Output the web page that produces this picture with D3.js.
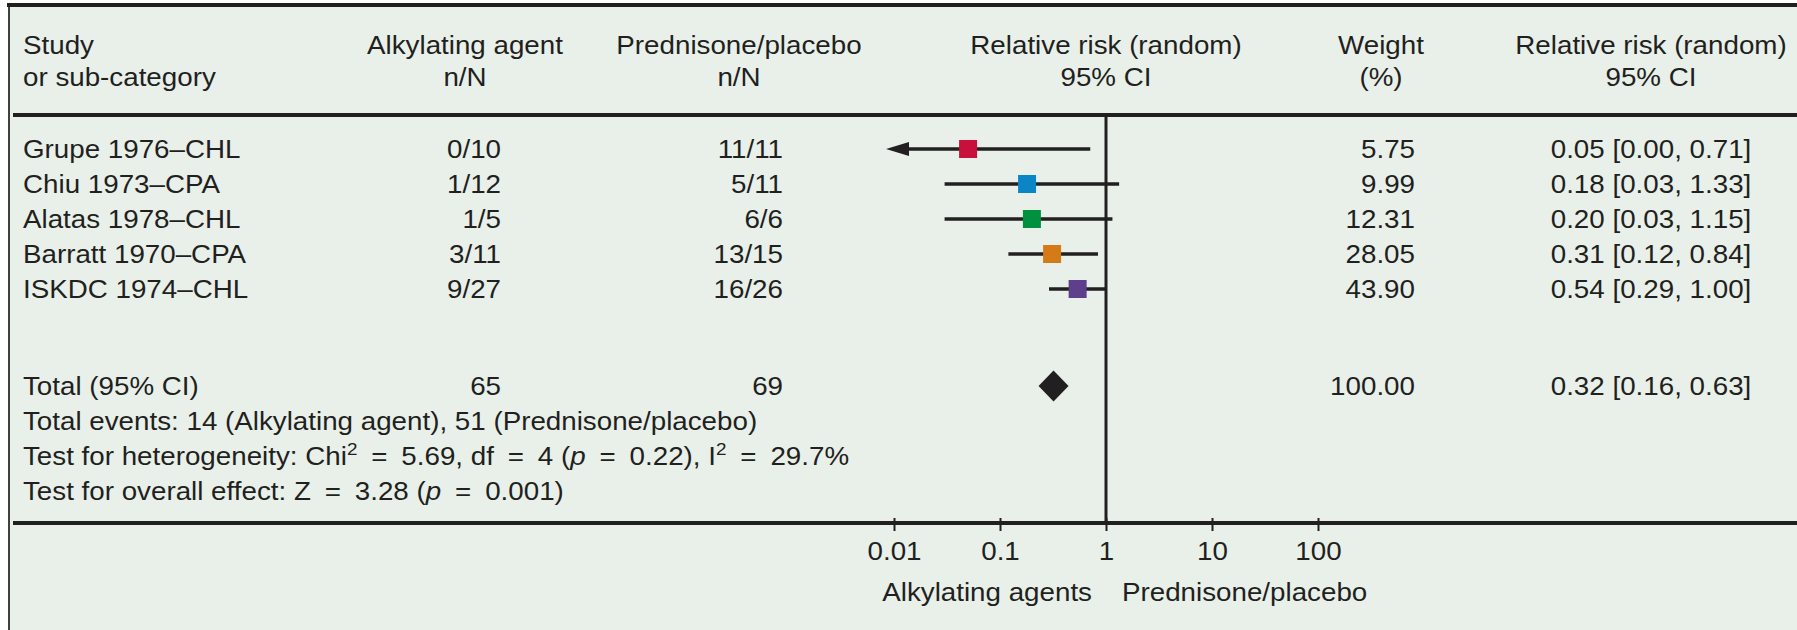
<!DOCTYPE html>
<html>
<head>
<meta charset="utf-8">
<script src="https://cdn.jsdelivr.net/npm/d3@7"></script>
<style>
  html, body { margin: 0; padding: 0; background: #ffffff; }
  svg { display: block; }
  text { font-family: "Liberation Sans", Arial, Helvetica, sans-serif; fill: #221f20; white-space: pre; }
</style>
</head>
<body>
<svg id="chart" width="1797" height="630"></svg>
<script>
// ---- Data -------------------------------------------------------------
const studies        = ["Grupe 1976–CHL", "Chiu 1973–CPA", "Alatas 1978–CHL", "Barratt 1970–CPA", "ISKDC 1974–CHL"];
const treatEvents    = ["0/10", "1/12", "1/5", "3/11", "9/27"];
const controlEvents  = ["11/11", "5/11", "6/6", "13/15", "16/26"];
const rr             = [0.05, 0.18, 0.20, 0.31, 0.54];
const ciLow          = [0.00, 0.03, 0.03, 0.12, 0.29];
const ciHigh         = [0.71, 1.33, 1.15, 0.84, 1.00];
const weights        = [5.75, 9.99, 12.31, 28.05, 43.90];
const markerColors   = ["#c8103a", "#0a86c6", "#00913f", "#d47a16", "#5e3f8c"];

const totals         = [65, 69];                 // total N per arm
const totalEvents    = [14, 51];                 // events per arm
const pooled         = [0.32, 0.16, 0.63];       // RR, lower, upper
const pooledWeight   = 100;
const heterogeneity  = [5.69, 4, 0.22, 29.7];    // Chi², df, p, I² (%)
const overallEffect  = [3.28, 0.001];            // Z, p

const tickValues     = [0.01, 0.1, 1, 10, 100];
const tickLabels     = ["0.01", "0.1", "1", "10", "100"];
const favourLabels   = ["Alkylating agents", "Prednisone/placebo"];

// ---- Layout -----------------------------------------------------------
const W = 1797, H = 630;
const FS = 25;          // body font size
const SX = 1.11;        // horizontal glyph stretch of the typeface
const ink = "#221f20";
const bg = "#e9f0ea";
const EQ = "\u2002=\u2002";   // spaced equals sign used in the statistics

const svg = d3.select("#chart");
svg.attr("font-size", FS);

const x = d3.scaleLog().domain([0.01, 100]).range([894, 1318]);
const row = d3.scaleLinear().domain([0, studies.length - 1]).range([149, 289]);
const fmt2 = d3.format(".2f");

function label(x0, y0, str, anchor) {
  return svg.append("text")
    .attr("transform", `translate(${x0},${y0}) scale(${SX},1)`)
    .attr("text-anchor", anchor || "start")
    .text(str);
}

// panel background and rules
svg.append("rect").attr("x", 9).attr("y", 3).attr("width", W - 9).attr("height", H - 3).attr("fill", bg);
svg.append("line").attr("x1", 9).attr("x2", 9).attr("y1", 3).attr("y2", H)
  .attr("stroke", ink).attr("stroke-width", 1.7);
svg.append("line").attr("x1", 7).attr("x2", W).attr("y1", 5).attr("y2", 5)
  .attr("stroke", ink).attr("stroke-width", 4);
svg.append("line").attr("x1", 13).attr("x2", W).attr("y1", 115).attr("y2", 115)
  .attr("stroke", ink).attr("stroke-width", 4);

// column headers
const colStudy = 23, colTreat = 501, colCtrl = 783, colWeight = 1415, colRR = 1651;
label(colStudy, 54, "Study");
label(colStudy, 86, "or sub-category");
label(465, 54, "Alkylating agent", "middle");
label(465, 86, "n/N", "middle");
label(739, 54, "Prednisone/placebo", "middle");
label(739, 86, "n/N", "middle");
label(x(1), 54, "Relative risk (random)", "middle");
label(x(1), 86, "95% CI", "middle");
label(1381, 54, "Weight", "middle");
label(1381, 86, "(%)", "middle");
label(colRR, 54, "Relative risk (random)", "middle");
label(colRR, 86, "95% CI", "middle");

// line of no effect
svg.append("line").attr("x1", x(1)).attr("x2", x(1)).attr("y1", 117).attr("y2", 521)
  .attr("stroke", ink).attr("stroke-width", 3);

// study rows
const base = 9; // text baseline below the mark centre
studies.forEach((s, i) => {
  const cy = row(i);
  label(colStudy, cy + base, s);
  label(colTreat, cy + base, treatEvents[i], "end");
  label(colCtrl, cy + base, controlEvents[i], "end");
  label(colWeight, cy + base, fmt2(weights[i]), "end");
  label(colRR, cy + base, `${fmt2(rr[i])} [${fmt2(ciLow[i])}, ${fmt2(ciHigh[i])}]`, "middle");

  const clipped = ciLow[i] < x.domain()[0];
  const tip = x(x.domain()[0]) - 8;
  const x1 = clipped ? tip + 20 : x(ciLow[i]);
  svg.append("line").attr("x1", x1).attr("x2", x(ciHigh[i])).attr("y1", cy).attr("y2", cy)
    .attr("stroke", ink).attr("stroke-width", 3.6);
  if (clipped) {
    svg.append("path")
      .attr("d", `M${tip},${cy} L${tip + 23},${cy - 7} L${tip + 23},${cy + 7} Z`)
      .attr("fill", ink);
  }
  svg.append("rect")
    .attr("x", x(rr[i]) - 9).attr("y", cy - 9).attr("width", 18).attr("height", 18)
    .attr("fill", markerColors[i]);
});

// pooled estimate
const ty = 386;
label(colStudy, ty + base, "Total (95% CI)");
label(colTreat, ty + base, String(totals[0]), "end");
label(colCtrl, ty + base, String(totals[1]), "end");
label(colWeight, ty + base, fmt2(pooledWeight), "end");
label(colRR, ty + base, `${fmt2(pooled[0])} [${fmt2(pooled[1])}, ${fmt2(pooled[2])}]`, "middle");
const dx = x(pooled[0]);
svg.append("path")
  .attr("d", `M${dx - 15},${ty} L${dx},${ty - 15.5} L${dx + 15},${ty} L${dx},${ty + 15.5} Z`)
  .attr("fill", ink);

// summary statistics
label(colStudy, 429.5, `Total events: ${totalEvents[0]} (Alkylating agent), ${totalEvents[1]} (Prednisone/placebo)`);

const het = label(colStudy, 464.5, "");
het.append("tspan").text("Test for heterogeneity: Chi");
het.append("tspan").attr("font-size", 17).attr("dy", -10).text("2");
het.append("tspan").attr("dy", 10).text(`${EQ}${heterogeneity[0]}, df${EQ}${heterogeneity[1]} (`);
het.append("tspan").attr("font-style", "italic").text("p");
het.append("tspan").text(`${EQ}${heterogeneity[2]}), I`);
het.append("tspan").attr("font-size", 17).attr("dy", -10).text("2");
het.append("tspan").attr("dy", 10).text(`${EQ}${heterogeneity[3]}%`);

const oe = label(colStudy, 499.5, "");
oe.append("tspan").text(`Test for overall effect: Z${EQ}${overallEffect[0]} (`);
oe.append("tspan").attr("font-style", "italic").text("p");
oe.append("tspan").text(`${EQ}${overallEffect[1]})`);

// bottom rule / axis
svg.append("line").attr("x1", 13).attr("x2", W).attr("y1", 523).attr("y2", 523)
  .attr("stroke", ink).attr("stroke-width", 4);

const axis = d3.axisBottom(x)
  .tickValues(tickValues)
  .tickFormat((d, i) => tickLabels[i])
  .tickSize(13);
svg.append("g")
  .attr("transform", "translate(0,518)")
  .call(axis)
  .attr("font-size", null).attr("font-family", null)
  .call(g => g.select(".domain").remove())
  .call(g => g.selectAll(".tick line").attr("stroke", ink).attr("stroke-width", 2))
  .call(g => g.selectAll(".tick text")
    .attr("y", 42).attr("dy", null)
    .attr("fill", ink)
    .attr("transform", `scale(${SX},1)`));

label(x(1) - 14, 601, favourLabels[0], "end");
label(x(1) + 16, 601, favourLabels[1], "start");
</script>
</body>
</html>
